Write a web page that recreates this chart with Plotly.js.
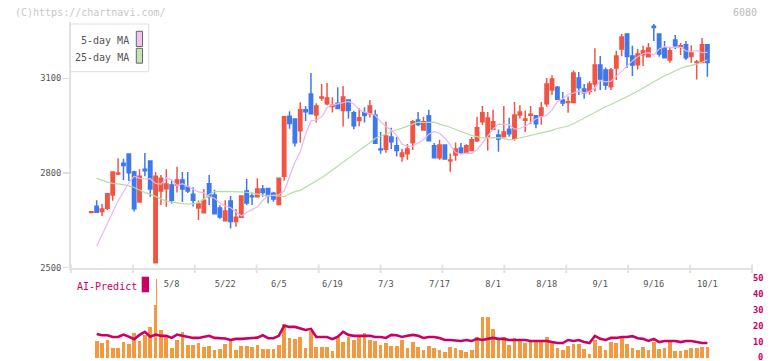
<!DOCTYPE html>
<html>
<head>
<meta charset="utf-8">
<script src="https://cdn.plot.ly/plotly-3.0.1.min.js"></script>
<style>
  html, body { margin: 0; padding: 0; background: #fff; }
  #chart { width: 772px; height: 361px; }
</style>
</head>
<body>
<div id="chart"></div>
<script>
// ---------- data ----------
const open = [2675,2695,2678,2688,2730,2797,2831,2860,2803,2708,
  2812,2838,2516,2743,2750,2762,2762,2778,2755,2733,
  2689,2674,2766,2730,2689,2649,2711,2646,2660,2743,
  2727,2725,2749,2751,2736,2700,2790,2980,2971,2934,
  3000,3050,2984,3038,3019,3011,3021,2998,3031,2991,
  2966,2991,2988,2984,2876,2875,2914,2886,2852,2861,
  2896,2968,2936,2981,2886,2848,2889,2839,2857,2879,
  2863,2871,2902,2962,2915,2939,2920,2915,2939,2910,
  2984,2967,2983,2981,2981,3019,3063,3072,3031,3023,
  3023,3101,3066,3058,3082,3142,3126,3073,3133,3193,
  3240,3171,3143,3175,3168,3265,3240,3196,3158,3221,
  3201,3206,3169,3150,3150,3206];
const high = [2677,2714,2702,2736,2803,2847,2845,2860,2807,2812,
  2863,2838,2803,2794,2812,2776,2820,2803,2803,2755,
  2713,2749,2794,2747,2698,2714,2727,2686,2727,2781,
  2738,2783,2762,2751,2741,2785,2980,2996,2971,3024,
  3012,3117,3021,3082,3085,3040,3072,3076,3031,2997,
  3005,3008,3031,3000,2930,2962,2943,2914,2877,2892,
  2968,2993,2978,3000,2895,2905,2889,2862,2897,2895,
  2891,2914,2978,3012,2993,3000,2938,3012,2975,3025,
  3015,2998,3012,2981,3025,3101,3110,3076,3057,3042,
  3125,3120,3082,3091,3195,3171,3134,3133,3187,3240,
  3240,3203,3193,3203,3212,3272,3240,3218,3200,3237,
  3212,3218,3205,3158,3228,3206];
const low = [2675,2674,2664,2683,2712,2794,2778,2775,2678,2706,
  2790,2725,2516,2699,2693,2703,2738,2708,2737,2694,
  2651,2674,2699,2671,2655,2649,2624,2630,2658,2699,
  2699,2725,2725,2704,2709,2700,2776,2940,2884,2896,
  2965,2988,2960,3029,3015,2992,3004,2947,2972,2939,
  2948,2960,2976,2894,2861,2864,2876,2852,2836,2842,
  2873,2948,2936,2902,2848,2842,2844,2804,2839,2860,
  2860,2870,2898,2952,2871,2936,2867,2914,2915,2902,
  2973,2930,2955,2942,2953,3010,3047,3031,3012,2991,
  3023,3047,3035,3048,3058,3063,3064,3063,3095,3170,
  3133,3107,3128,3139,3168,3218,3168,3165,3149,3193,
  3174,3158,3149,3096,3150,3105];
const close = [2677,2676,2686,2734,2803,2800,2824,2801,2687,2790,
  2807,2749,2790,2783,2765,2714,2778,2749,2743,2714,
  2702,2714,2725,2671,2661,2680,2646,2660,2727,2705,
  2725,2749,2738,2727,2718,2783,2978,2957,2896,3000,
  2994,2988,3012,3041,3038,3015,3004,3041,2998,2950,
  2975,2982,3012,2894,2874,2917,2899,2871,2863,2876,
  2962,2954,2962,2902,2848,2889,2844,2841,2876,2863,
  2886,2905,2943,2991,2974,2962,2908,2930,2924,2984,
  2993,2971,2986,2956,3006,3082,3098,3034,3022,3026,
  3117,3070,3054,3082,3142,3098,3079,3126,3171,3231,
  3169,3142,3177,3187,3196,3261,3177,3165,3187,3203,
  3203,3165,3180,3152,3206,3150];
const ma5 = [null,2568,2604,2640,2674,2712,2740,2769,2790,2783,
  2781,2782,2767,2765,2784,2779,2761,2766,2758,2750,
  2740,2737,2725,2720,2705,2695,2690,2677,2664,2675,
  2684,2693,2713,2729,2729,2731,2743,2789,2833,2867,
  2923,2965,2967,2978,3007,3015,3019,3022,3027,3019,
  3001,2993,2989,2983,2963,2947,2936,2919,2891,2885,
  2885,2894,2905,2923,2931,2926,2911,2889,2865,2860,
  2863,2862,2874,2895,2917,2939,2955,2955,2953,2939,
  2941,2948,2960,2972,2978,2983,3000,3026,3035,3049,
  3053,3060,3054,3058,3070,3093,3089,3091,3106,3123,
  3141,3155,3168,3178,3181,3174,3193,3200,3197,3197,
  3199,3187,3185,3188,3181,3182];
const ma25 = [null,2783,2776,2771,2767,2766,2763,2759,2754,2746,
  2738,2733,2725,2717,2711,2708,2705,2703,2702,2702,
  2706,2717,2732,2741,2742,2742,2742,2741,2740,2739,
  2736,2733,2730,2727,2729,2726,2725,2734,2741,2745,
  2755,2766,2774,2785,2797,2810,2822,2834,2846,2859,
  2871,2883,2896,2910,2917,2924,2931,2937,2942,2948,
  2954,2961,2960,2961,2961,2955,2951,2945,2938,2931,
  2924,2919,2915,2911,2911,2912,2912,2909,2905,2907,
  2911,2914,2917,2921,2925,2930,2935,2941,2944,2949,
  2956,2965,2974,2982,2991,3002,3010,3017,3025,3032,
  3042,3050,3060,3070,3080,3089,3099,3108,3115,3124,
  3132,3137,3140,3145,3151,3158];
const volume = [null,10.7,9.4,11.3,6.3,6.3,10,8.8,15.7,10.7,
  14.5,19.5,33,17.6,13.2,6.2,11.3,16.4,8.2,8.2,
  9.4,6.9,7.5,5,5.7,8.8,10.7,5,7.5,7.5,
  6.9,8.2,5.7,5.7,5.7,8.2,21.6,12.6,12,13.2,
  6.3,17,6.9,6.9,6.9,4.4,13.2,10,13.2,11.3,
  13.2,15.7,11.3,10.7,8.2,9.4,7.5,7.5,11.3,6.3,
  10,6.9,5,7.5,6.3,5,3.8,6.9,6.3,5,
  3.8,5,13.2,25.8,25.8,18.3,11.3,13.2,8.2,12.6,
  12,9.4,10.7,10,10,13.2,10.7,6.3,5,7.5,
  8.8,8.8,5.7,2.5,11.3,7.5,5,10,9.4,13.2,
  8.8,6.3,5,6.9,5,10,5.7,6.3,10,4.4,
  4.4,5,6.3,6.3,6.9,6.9];
const spikeIdx = [12];
const spikeVolume = [49.7];
const aiPredict = [null,15.1,14.3,14.3,13.2,13.2,14.7,13.4,11.8,14.5,
  16.4,13.4,14.7,13.9,13.9,12.6,14.7,13.9,13.2,12.6,
  12.6,13.2,13.9,12.6,12.2,12.2,11.3,12,12,12.4,
  12.8,12.8,14.3,12.4,12.4,13.9,20.2,19.5,19.5,18.3,
  17.6,18.3,13.2,13.2,13.2,11.8,13.4,16.4,14.5,13.9,
  13.9,13.9,13.9,13.2,13.2,12.6,14.5,14.3,13.2,13.9,
  14.5,13.9,12.6,13.2,13.2,12.6,11.3,11.3,11.1,10.7,
  11.3,10.7,12,11.3,12,12.6,12,12,11.3,11.3,
  11.3,11.3,10.7,10.7,10.7,10.7,10,9.4,9.4,11.3,
  10.7,11.3,10,9.4,13.9,12,11.3,12.6,12.6,13.2,
  13.2,13.7,12.4,12,10.7,12,10,10.7,10.7,10.7,
  10,10.7,10.7,10,9.4,9.4];
const tickIdx = [15,25,35,45,55,65,75,85,95,105,115];
const tickText = ['5/8','5/22','6/5','6/19','7/3','7/17','8/1','8/18','9/1','9/16','10/1'];
const priceTicks = [2500,2800,3100];
const subTicks = [0,10,20,30,40,50];

// ---------- geometry / style ----------
const W = 772, H = 361, ML = 71, MR = 20, MT = 22, MB = 3;
const PW = W - ML - MR, PH = H - MT - MB;
const px = x => (x - ML) / PW;
const py = y => (H - MB - y) / PH;
const X0 = -3.79, X1 = 123.33;
const FONT = 'DejaVu Sans Mono, Liberation Mono, monospace';
const RED = '#f25443', BLUE = '#3d78ee', CRIMSON = '#cc0062', ORANGE = '#f4993f';

const idx = close.map((_, i) => i);

const traces = [
  {
    type: 'candlestick', x: idx, open: open, high: high, low: low, close: close,
    xaxis: 'x', yaxis: 'y', hoverinfo: 'skip',
    increasing: { line: { color: RED, width: 1.5 }, fillcolor: RED },
    decreasing: { line: { color: BLUE, width: 1.5 }, fillcolor: BLUE },
    whiskerwidth: 0
  },
  { type: 'scatter', mode: 'lines', x: idx, y: ma25, xaxis: 'x', yaxis: 'y',
    line: { color: '#b6dca6', width: 1.2 }, hoverinfo: 'skip' },
  { type: 'scatter', mode: 'lines', x: idx, y: ma5, xaxis: 'x', yaxis: 'y',
    line: { color: '#eab6ee', width: 1.2 }, hoverinfo: 'skip' },
  { type: 'bar', x: idx, y: volume, xaxis: 'x2', yaxis: 'y2', width: 0.7,
    marker: { color: ORANGE, line: { width: 0 } }, hoverinfo: 'skip' },
  { type: 'bar', x: spikeIdx, y: spikeVolume, xaxis: 'x2', yaxis: 'y2', width: 0.35, offset: 0,
    marker: { color: ORANGE, line: { width: 0 } }, hoverinfo: 'skip' },
  { type: 'scatter', mode: 'lines', x: idx, y: aiPredict, xaxis: 'x2', yaxis: 'y2',
    line: { color: CRIMSON, width: 2.6 }, hoverinfo: 'skip' }
];

const shapes = [];
for (let k = 0; k <= 11; k++) {
  shapes.push({ type: 'line', xref: 'paper', yref: 'paper', x0: k / 11, x1: k / 11,
    y0: py(264.5), y1: py(273), line: { color: '#e2e2e2', width: 2 } });
}
// legend box + swatches
shapes.push({ type: 'rect', xref: 'paper', yref: 'paper', layer: 'above',
  x0: px(70.3), x1: px(148.7), y0: py(71.7), y1: py(24),
  fillcolor: '#ffffff', line: { color: '#dedede', width: 1 } });
shapes.push({ type: 'rect', xref: 'paper', yref: 'paper', layer: 'above',
  x0: px(136.3), x1: px(142.5), y0: py(46.5), y1: py(31.3),
  fillcolor: '#f0c4f2', line: { color: '#666', width: 1 } });
shapes.push({ type: 'rect', xref: 'paper', yref: 'paper', layer: 'above',
  x0: px(136.3), x1: px(142.5), y0: py(63.2), y1: py(48.3),
  fillcolor: '#c4e4b4', line: { color: '#666', width: 1 } });
// AI-Predict swatch
shapes.push({ type: 'rect', xref: 'paper', yref: 'paper', layer: 'above',
  x0: px(141.7), x1: px(149), y0: py(292.3), y1: py(276.7),
  fillcolor: CRIMSON, line: { width: 0 } });

const ann = (text, x, y, anchor, color, size, weight) => ({
  text: text, xref: 'paper', yref: 'paper', x: px(x), y: py(y),
  xanchor: anchor, yanchor: 'middle', showarrow: false, borderpad: 0,
  font: { family: FONT, size: size, color: color, weight: weight || 'normal' }
});

const layout = {
  width: W, height: H,
  margin: { l: ML, r: MR, t: MT, b: MB, pad: 0 },
  paper_bgcolor: '#ffffff', plot_bgcolor: '#ffffff',
  showlegend: false,
  font: { family: FONT, size: 9, color: '#555' },
  boxgap: 0.3, boxgroupgap: 0.1,
  bargap: 0,
  barmode: 'overlay',
  xaxis: {
    domain: [0, 1], anchor: 'y', range: [X0, X1],
    rangeslider: { visible: false },
    showgrid: false, zeroline: false,
    showline: true, linecolor: '#e2e2e2', linewidth: 2,
    tickmode: 'array', tickvals: tickIdx, ticktext: tickText,
    ticks: 'outside', ticklen: 7, tickcolor: 'rgba(0,0,0,0)',
    tickfont: { family: FONT, size: 8.7, color: '#555' }
  },
  yaxis: {
    domain: [py(267.7), 1], anchor: 'x', range: [2500, 2500 + (267.7 - MT) * 3.168],
    showgrid: false, zeroline: false,
    showline: true, linecolor: '#e2e2e2', linewidth: 2,
    tickmode: 'array', tickvals: priceTicks,
    ticks: 'outside', ticklen: 6, tickcolor: '#dddddd', tickwidth: 1.5,
    tickfont: { family: FONT, size: 8.7, color: '#555' }
  },
  xaxis2: {
    domain: [0, 1], anchor: 'y2', range: [X0, X1], visible: false
  },
  yaxis2: {
    domain: [0, py(278.3)], anchor: 'x2', side: 'right', range: [0, 50],
    showgrid: false, zeroline: false, showline: false,
    tickmode: 'array', tickvals: subTicks.slice(1), ticks: '',
    ticklabeloverflow: 'allow',
    tickfont: { family: FONT, size: 8.7, color: CRIMSON, weight: 'bold' }
  },
  shapes: shapes,
  annotations: [
    ann('(C)https://chartnavi.com/', 13.5, 12.3, 'left', '#c8c8c8', 10),
    ann('6080', 757.5, 12.3, 'right', '#bbbbbb', 10),
    ann('5-day MA', 130.3, 40.7, 'right', '#555', 10),
    ann('25-day MA', 130.3, 57.3, 'right', '#555', 10),
    ann('AI-Predict', 75.5, 286, 'left', CRIMSON, 10),
    ann(String(subTicks[0]), 756.8, 356.6, 'left', CRIMSON, 8.7, 'bold')
  ]
};

Plotly.newPlot('chart', traces, layout, { staticPlot: true, displayModeBar: false });
</script>
</body>
</html>
